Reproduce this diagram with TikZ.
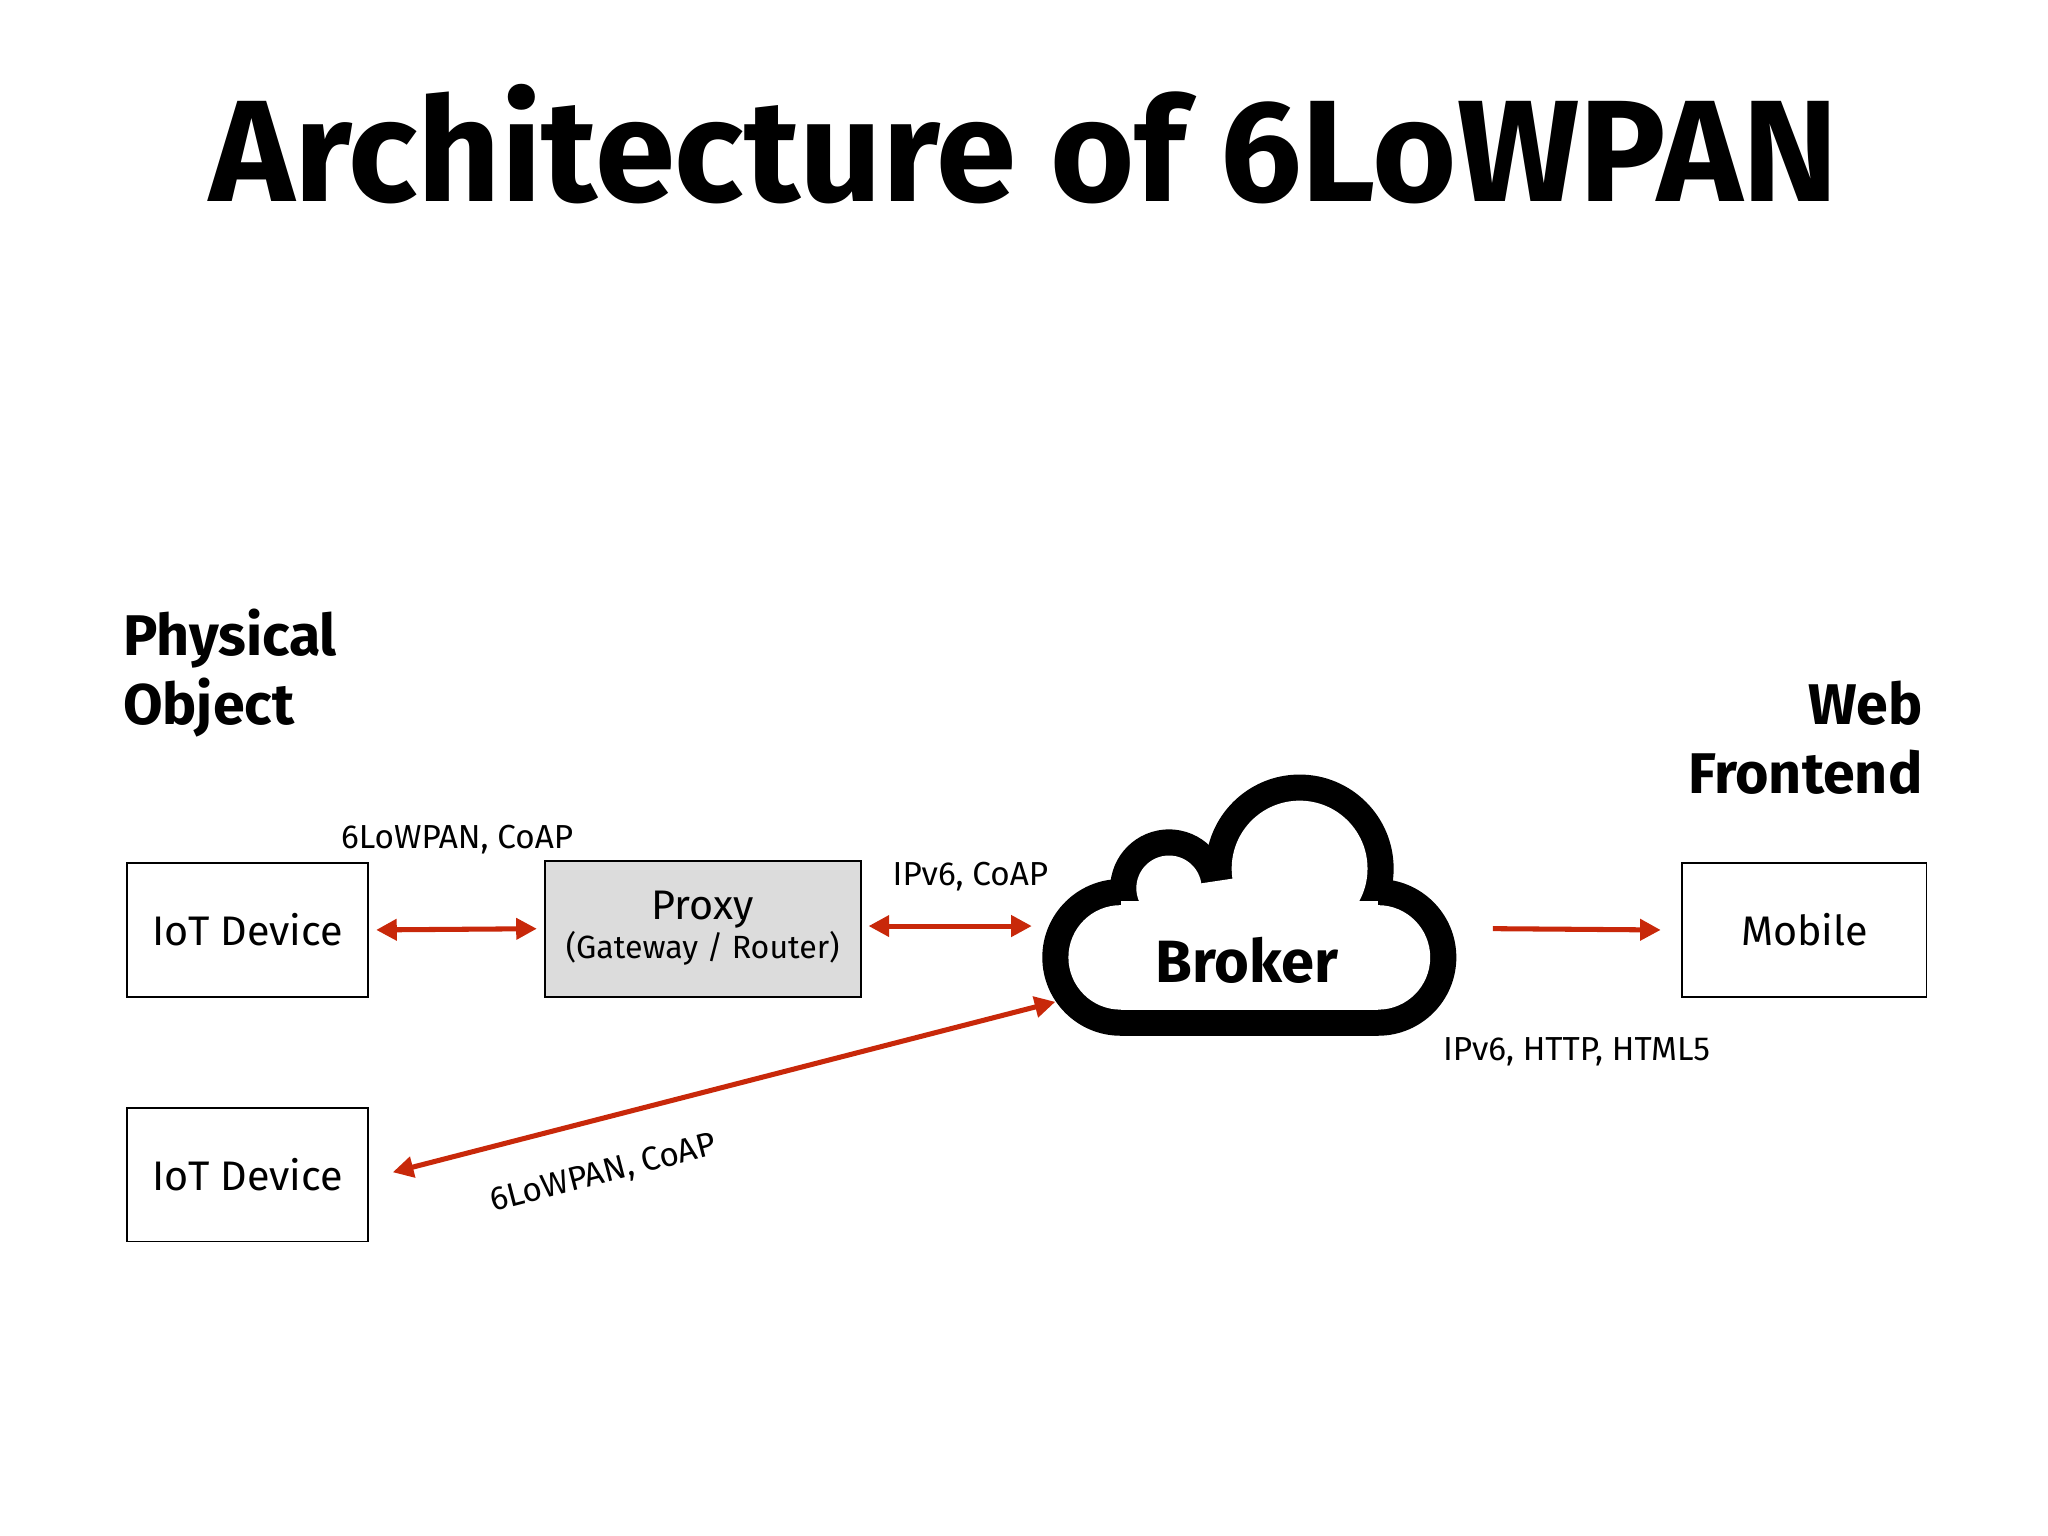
\documentclass[tikz,border=0pt]{standalone}
\usepackage{fontspec}
\setmainfont{Fira Sans}
\usetikzlibrary{arrows.meta}
\definecolor{arr}{RGB}{200,40,10}
\definecolor{pgray}{RGB}{220,220,220}
\begin{document}
\begin{tikzpicture}[x=0.02cm,y=-0.02cm,
  box/.style={draw=black,line width=0.8pt,minimum width=185*0.02cm,minimum height=102*0.02cm,inner sep=0pt,font=\fontsize{18}{20}\selectfont},
  link/.style={draw=arr,line width=2.2pt,{Triangle[length=9pt,width=9pt]}-{Triangle[length=9pt,width=9pt]}},
  lbl/.style={font=\fontsize{14.5}{16}\selectfont},
  head/.style={font=\bfseries\fontsize{25}{30}\selectfont,align=left}]
\useasboundingbox (0,0) rectangle (1568,1176);
\node[font=\bfseries\fontsize{63}{65}\selectfont] (title) at (784,110) {Architecture of 6LoWPAN};
\node[head,anchor=north west] (phys) at (88,460) {Physical\\Object};
\node[head,anchor=north east,align=right] (web) at (1478,515) {Web\\Frontend};
\node[box] (iot1) at (189.5,712) {IoT Device};
\node[box] (iot2) at (189.5,899.5) {IoT Device};
\node[box,fill=pgray,minimum width=242*0.02cm,minimum height=104*0.02cm,align=center] (proxy) at (538,711) {Proxy\\[-3pt]{\fontsize{14}{16}\selectfont (Gateway / Router)}};
\node[box,minimum width=187*0.02cm] (mobile) at (1381.5,712) {Mobile};
% cloud
\fill[black] (1055,733) circle (60);
\fill[black] (995,665) circle (72);
\fill[black] (895,680) circle (45);
\fill[black] (858,733) circle (60);
\fill[black] (858,673) rectangle (1055,793);
\fill[black] (858,733) -- (895,680) -- (995,665) -- (1055,733) -- cycle;
\fill[white] (1055,733) circle (40);
\fill[white] (995,665) circle (52);
\fill[white] (895,680) circle (25);
\fill[white] (858,733) circle (40);
\fill[white] (858,690) rectangle (1055,773);
\fill[white] (858,733) -- (895,680) -- (995,665) -- (1055,733) -- cycle;
\node[font=\bfseries\fontsize{26}{30}\selectfont] (broker) at (955,735) {Broker};
\coordinate (bl) at (790,709);
\coordinate (bd) at (808,767);
\coordinate (br) at (1143,711);
\draw[link,shorten <=3pt,shorten >=3pt] (iot1.east) -- (proxy.west);
\draw[link,shorten <=3pt] (proxy.east|-bl) -- (bl);
\draw[link] (iot2.east) ++(18,-2) coordinate (d2) (d2) -- (bd);
\draw[draw=arr,line width=2.2pt,-{Triangle[length=9pt,width=9pt]}] (br) -- ([xshift=-9pt]mobile.west);
\node[lbl] (l1) at (350,643) {6LoWPAN, CoAP};
\node[lbl] (l2) at (743,671) {IPv6, CoAP};
\node[lbl] (l3) at (1207,805) {IPv6, HTTP, HTML5};
\node[lbl,rotate=14.5,inner sep=1pt] (l4) at (462,899) {6LoWPAN, CoAP};
\end{tikzpicture}
\end{document}
